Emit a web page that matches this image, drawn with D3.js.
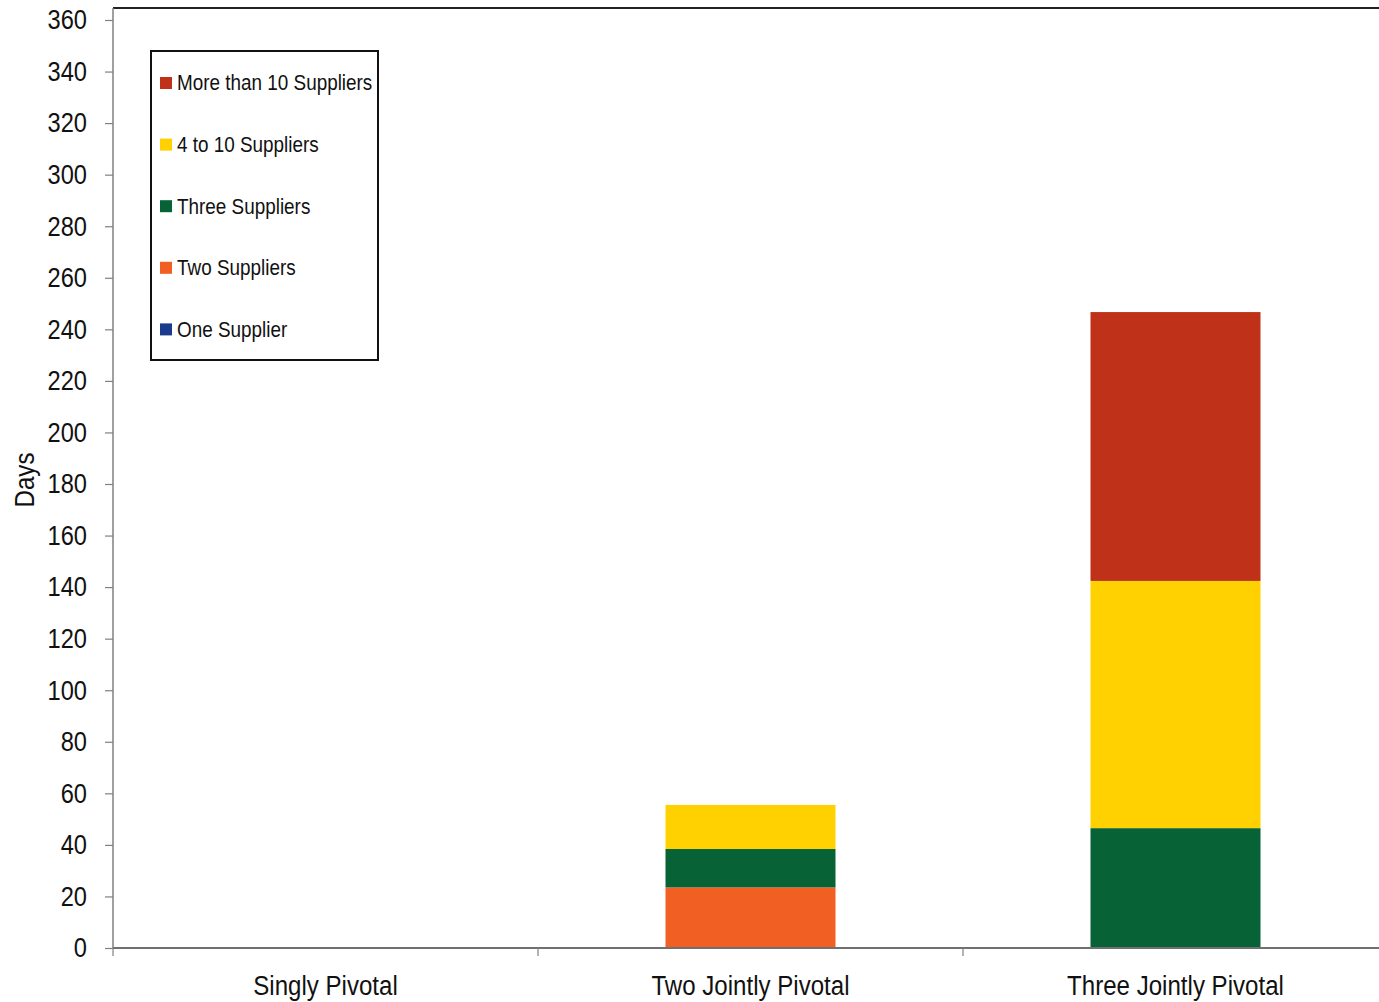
<!DOCTYPE html>
<html>
<head>
<meta charset="utf-8">
<script src="https://cdn.jsdelivr.net/npm/d3@7"></script>
<style>
  html, body { margin: 0; padding: 0; background: #fff; }
  svg { display: block; }
  text { font-family: "Liberation Sans", Arial, sans-serif; fill: #111; }
</style>
</head>
<body>
<svg id="chart" width="1379" height="1002"></svg>
<script>
// ---- data ----
const categories = ["Singly Pivotal", "Two Jointly Pivotal", "Three Jointly Pivotal"];
const seriesNames = ["One Supplier", "Two Suppliers", "Three Suppliers", "4 to 10 Suppliers", "More than 10 Suppliers"];
const oneSupplier = [0, 0, 0];
const twoSuppliers = [0, 23.5, 0];
const threeSuppliers = [0, 14.9, 46.5];
const fourToTen = [0, 17.1, 95.9];
const moreThanTen = [0, 0, 104.3];
const yTicks = [0, 20, 40, 60, 80, 100, 120, 140, 160, 180, 200, 220, 240, 260, 280, 300, 320, 340, 360];
const colors = ["#1B3A8C", "#F15F22", "#076336", "#FFD100", "#C0311A"];
const yLabel = "Days";

const seriesValues = [oneSupplier, twoSuppliers, threeSuppliers, fourToTen, moreThanTen];
const table = categories.map((c, i) => {
  const row = { category: c };
  seriesNames.forEach((s, j) => row[s] = seriesValues[j][i]);
  return row;
});

const NARROW = 0.86;
// condense a text horizontally about its anchor point
function condense(sel, k) {
  sel.each(function () {
    const t = d3.select(this);
    const tx = +t.attr("x") || 0;
    t.attr("transform", `translate(${tx},0) scale(${k},1) translate(${-tx},0)`);
  });
}

const svg = d3.select("#chart");
const pLeft = 113, pRight = 1388, pTop = 20, pBottom = 948;

const x = d3.scaleBand().domain(categories).range([pLeft, pRight]).padding(0);
const y = d3.scaleLinear().domain([0, 360]).range([pBottom, pTop]);

const stacked = d3.stack().keys(seriesNames)(table);

// top border of plot area
svg.append("line")
  .attr("x1", pLeft).attr("x2", 1379)
  .attr("y1", 8).attr("y2", 8)
  .attr("stroke", "#222").attr("stroke-width", 2);

// bars
const bw = x.bandwidth() * 0.4;
svg.append("g").selectAll("g")
  .data(stacked).join("g")
  .attr("fill", (d, i) => colors[i])
  .selectAll("rect")
  .data(d => d.filter(p => p[1] - p[0] > 0))
  .join("rect")
  .attr("x", d => x(d.data.category) + (x.bandwidth() - bw) / 2)
  .attr("width", bw)
  .attr("y", d => y(d[1]))
  .attr("height", d => y(d[0]) - y(d[1]));

// y axis
const yAxis = svg.append("g")
  .attr("transform", `translate(${pLeft},0)`)
  .call(d3.axisLeft(y).tickValues(yTicks).tickSize(8).tickPadding(18).tickSizeOuter(0));
yAxis.select(".domain").remove();
yAxis.append("line").attr("x1", 0).attr("x2", 0).attr("y1", 8).attr("y2", pBottom)
  .attr("stroke", "#808080").attr("stroke-width", 1.5);
yAxis.selectAll(".tick line").attr("stroke", "#808080").attr("stroke-width", 1.2);
yAxis.selectAll(".tick text").style("font-size", "27.5px").attr("fill", "#111")
  .call(condense, NARROW);

// x axis
const xAxis = svg.append("g")
  .attr("transform", `translate(0,${pBottom})`)
  .call(d3.axisBottom(x).tickSize(0).tickPadding(27).tickSizeOuter(0));
xAxis.select(".domain").remove();
xAxis.append("line").attr("x1", pLeft).attr("x2", pRight).attr("y1", 0).attr("y2", 0)
  .attr("stroke", "#707070").attr("stroke-width", 2);
xAxis.selectAll(".tick text").style("font-size", "28px").attr("fill", "#111")
  .call(condense, NARROW);
// category boundary ticks
const boundaries = categories.map(c => x(c)).concat([x.range()[1]]);
xAxis.selectAll(".bt").data(boundaries).join("line")
  .attr("class", "bt")
  .attr("x1", d => d).attr("x2", d => d)
  .attr("y1", 0).attr("y2", 8)
  .attr("stroke", "#808080").attr("stroke-width", 1.2);

// y label
svg.append("text")
  .attr("transform", `translate(34,480) rotate(-90) scale(${NARROW},1)`)
  .attr("text-anchor", "middle")
  .style("font-size", "28px")
  .text(yLabel);

// legend
const lg = svg.append("g").attr("transform", "translate(151,51)");
lg.append("rect").attr("width", 227).attr("height", 309)
  .attr("fill", "#fff").attr("stroke", "#111").attr("stroke-width", 2);
const legendOrder = seriesNames.map((s, i) => ({ name: s, color: colors[i] })).reverse();
const items = lg.selectAll(".li").data(legendOrder).join("g")
  .attr("class", "li")
  .attr("transform", (d, i) => `translate(9,${32 + i * 61.6})`);
items.append("rect").attr("x", 0).attr("y", -6).attr("width", 12).attr("height", 12)
  .attr("fill", d => d.color);
items.append("text").attr("x", 17).attr("y", 0).attr("dy", "0.33em")
  .style("font-size", "22.5px").text(d => d.name)
  .call(condense, 0.84);
</script>
</body>
</html>
